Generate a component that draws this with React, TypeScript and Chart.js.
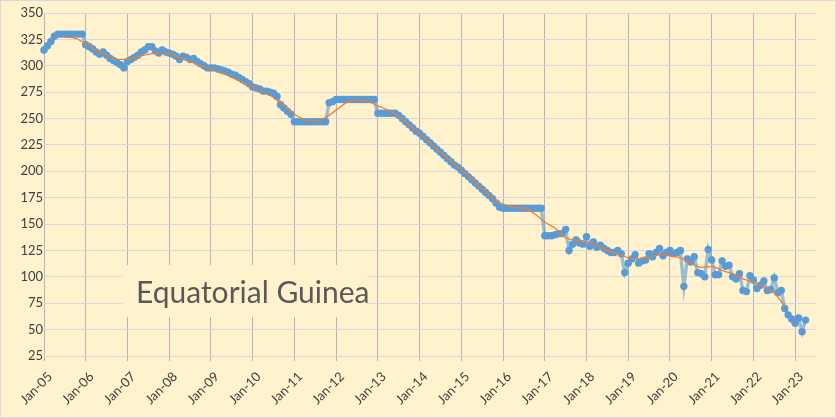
import { useEffect, useRef } from "react";
import { Chart, registerables } from "chart.js";

Chart.register(...registerables);

const MONTHS = ["Jan", "Feb", "Mar", "Apr", "May", "Jun", "Jul", "Aug", "Sep", "Oct", "Nov", "Dec"];
const YEARS = ["05", "06", "07", "08", "09", "10", "11", "12", "13", "14", "15", "16", "17", "18", "19", "20", "21", "22", "23"];

// monthly output, kb/d
const prod2005 = [315, 319, 323, 328, 330, 330, 330, 330, 330, 330, 330, 330];
const prod2006 = [320, 318, 316, 313, 311, 313, 310, 307, 305, 303, 301, 298];
const prod2007 = [304, 306, 308, 310, 313, 315, 318, 318, 314, 312, 315, 313];
const prod2008 = [312, 311, 309, 306, 309, 308, 306, 307, 304, 302, 300, 298];
const prod2009 = [298, 298, 297, 296, 295, 294, 292, 291, 289, 287, 285, 283];
const prod2010 = [280, 279, 278, 276, 276, 275, 274, 271, 263, 260, 257, 254];
const prod2011 = [247, 247, 247, 247, 247, 247, 247, 247, 247, 247, 265, 266];
const prod2012 = [268, 268, 268, 268, 268, 268, 268, 268, 268, 268, 268, 268];
const prod2013 = [255, 255, 255, 255, 255, 255, 253, 250, 247, 244, 241, 238];
const prod2014 = [236, 233, 230, 227, 224, 221, 218, 215, 212, 209, 206, 204];
const prod2015 = [201, 198, 195, 192, 189, 186, 183, 180, 177, 174, 170, 166];
const prod2016 = [165, 165, 165, 165, 165, 165, 165, 165, 165, 165, 165, 165];
const prod2017 = [139, 139, 139, 140, 141, 141, 145, 125, 131, 135, 132, 131];
const prod2018 = [138, 129, 133, 128, 130, 127, 125, 123, 123, 125, 122, 104];
const prod2019 = [113, 117, 121, 113, 115, 116, 122, 119, 123, 127, 120, 123];
const prod2020 = [125, 122, 123, 125, 91, 117, 114, 119, 104, 103, 100, 126];
const prod2021 = [116, 102, 102, 115, 110, 111, 100, 98, 103, 87, 86, 101];
const prod2022 = [97, 89, 92, 96, 87, 88, 99, 85, 87, 70, 64, 60];
const prod2023 = [56, 61, 48, 59];

// orange trend line, read at quarterly points
const trendMonths = [
  "Jul-05", "Oct-05", "Jan-06", "Apr-06", "Jul-06", "Oct-06", "Jan-07", "Apr-07", "Jul-07", "Oct-07",
  "Jan-08", "Apr-08", "Jul-08", "Oct-08", "Jan-09", "Apr-09", "Jul-09", "Oct-09", "Jan-10", "Apr-10",
  "Jul-10", "Oct-10", "Jan-11", "Apr-11", "Jul-11", "Oct-11", "Jan-12", "Apr-12", "Jul-12", "Oct-12",
  "Jan-13", "Apr-13", "Jul-13", "Oct-13", "Jan-14", "Apr-14", "Jul-14", "Oct-14", "Jan-15", "Apr-15",
  "Jul-15", "Oct-15", "Jan-16", "Apr-16", "Jul-16", "Oct-16", "Jan-17", "Apr-17", "Jul-17", "Oct-17",
  "Jan-18", "Apr-18", "Jul-18", "Oct-18", "Jan-19", "Apr-19", "Jul-19", "Oct-19", "Jan-20", "Apr-20",
  "Jul-20", "Oct-20", "Jan-21", "Apr-21", "Jul-21", "Oct-21", "Jan-22", "Apr-22", "Jul-22", "Oct-22",
];
const trendValues = [
  327, 326, 321, 315, 310, 306, 306, 308.5, 311, 312,
  311, 308, 304, 300, 297, 293.5, 289, 284.5, 280, 275.5,
  270, 262, 254, 249, 247.5, 251, 258, 265, 267.5, 266.5,
  262, 258, 252, 244, 236, 227, 218, 210, 202, 193,
  184, 175, 169, 166, 165, 160, 152, 146, 137, 134.5,
  133, 130, 125, 122, 118, 117, 119, 121, 120, 118,
  113, 109, 110, 106, 103, 98, 95, 91, 85, 72,
];

const yTicks = { min: 25, max: 350, step: 25 };

// axis runs to Jul-23
const labels = YEARS.flatMap((y) => MONTHS.map((m) => `${m}-${y}`)).slice(0, 18 * 12 + 7);

const production: (number | null)[] = [
  ...prod2005, ...prod2006, ...prod2007, ...prod2008, ...prod2009, ...prod2010, ...prod2011,
  ...prod2012, ...prod2013, ...prod2014, ...prod2015, ...prod2016, ...prod2017, ...prod2018,
  ...prod2019, ...prod2020, ...prod2021, ...prod2022, ...prod2023,
];
while (production.length < labels.length) production.push(null);

const trend = labels.map((l) => {
  const i = trendMonths.indexOf(l);
  return i >= 0 ? trendValues[i] : null;
});

const FONT = "Lato, 'Open Sans', sans-serif";

export default function App() {
  const canvasRef = useRef<HTMLCanvasElement>(null);

  useEffect(() => {
    const el = canvasRef.current;
    if (!el) return;

    const chart = new Chart(el, {
      type: "line",
      data: {
        labels,
        datasets: [
          {
            label: "Trend",
            data: trend,
            borderColor: "#ED7D31",
            borderWidth: 1.3,
            pointRadius: 0,
            spanGaps: true,
            cubicInterpolationMode: "monotone",
          },
          {
            label: "Equatorial Guinea",
            data: production,
            borderColor: "rgba(91,155,213,0.6)",
            borderWidth: 3.5,
            pointRadius: 3.7,
            pointBackgroundColor: "#5B9BD5",
            pointBorderColor: "#5B9BD5",
            pointBorderWidth: 0,
            tension: 0,
          },
        ],
      },
      options: {
        animation: false,
        responsive: true,
        maintainAspectRatio: false,
        layout: { padding: { top: 13, right: 20, left: 0, bottom: 0 } },
        plugins: {
          legend: { display: false },
          tooltip: { enabled: false },
        },
        scales: {
          x: {
            offset: false,
            border: { display: false },
            grid: {
              color: (c) => (c.index % 12 === 0 ? "#B4B4BC" : "transparent"),
              tickLength: 5,
            },
            ticks: {
              autoSkip: false,
              maxRotation: 45,
              minRotation: 45,
              color: "#404040",
              font: { family: FONT, size: 13 },
              padding: 8,
              labelOffset: 6,
              callback: (_v, i) => (i % 12 === 0 ? labels[i] : ""),
            },
            afterFit: (s) => {
              s.height = 62;
            },
          },
          y: {
            min: yTicks.min,
            max: yTicks.max,
            border: { display: false },
            grid: { color: "#D9D9D9", drawTicks: false },
            ticks: {
              stepSize: yTicks.step,
              color: "#404040",
              font: { family: FONT, size: 13 },
              padding: 1,
            },
            afterFit: (s) => {
              s.width = 44;
            },
          },
        },
      },
    });

    return () => chart.destroy();
  }, []);

  return (
    <div
      style={{
        position: "fixed",
        left: 0,
        top: 0,
        width: 836,
        height: 418,
        background: "#FFF2CC",
        boxShadow: "inset 0 0 0 1px #D9D9D9",
      }}
    >
      <canvas ref={canvasRef} />
      <div
        style={{
          position: "absolute",
          left: 123,
          top: 265,
          width: 244,
          height: 52,
          background: "#FFF2CC",
          fontFamily: FONT,
          fontSize: 30,
          lineHeight: "52px",
          color: "#595959",
          paddingLeft: 13,
          boxSizing: "border-box",
          whiteSpace: "nowrap",
        }}
      >
        Equatorial Guinea
      </div>
    </div>
  );
}
